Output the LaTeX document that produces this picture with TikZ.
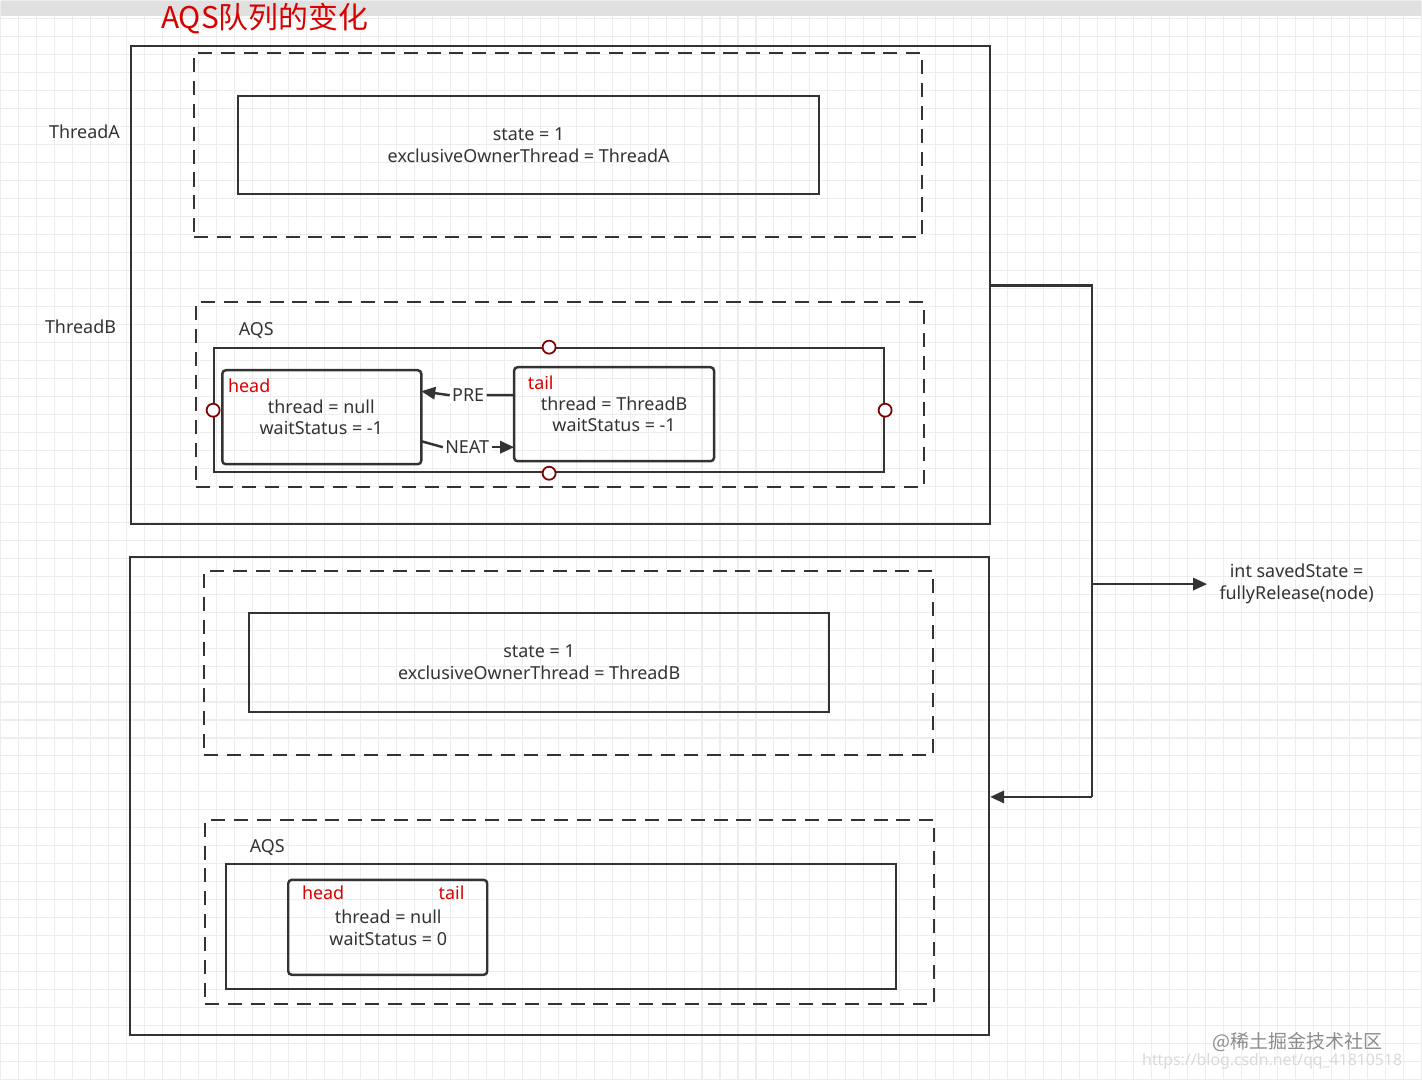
\documentclass[tikz,border=0pt]{standalone}
\usepackage{fontspec}
\setmainfont{Noto Sans}
\newfontfamily\cjk{Noto Sans CJK SC}
\usetikzlibrary{arrows.meta}

\tikzset{
  box/.style={draw=black!80, line width=0.6pt, inner sep=0pt},
  dbox/.style={draw=black!80, line width=0.6pt, dash pattern=on 4pt off 2.5pt, inner sep=0pt},
  qnode/.style={draw=black!80, line width=0.7pt, rounded corners=1pt, inner sep=0pt},
  txt/.style={font=\fontsize{5.1}{6.2}\selectfont, text=black!80, align=center},
  red/.style={font=\fontsize{5.1}{6.2}\selectfont, text=red!85!black, inner sep=0pt},
  port/.style={circle, draw=red!50!black, fill=white, line width=0.5pt, minimum size=0.13cm, inner sep=0pt},
  link/.style={draw=black!80, line width=0.7pt, -{Triangle[length=4pt,width=3.5pt]}},
}

\begin{document}
\begin{tikzpicture}[x=0.01cm,y=-0.01cm]
  % background grid
  \fill[white] (0,0) rectangle (1422,1080);
  \foreach \g in {0,18,...,1422} {\draw[black!7, line width=0.3pt] (\g,0) -- (\g,1080);}
  \foreach \g in {0,18,...,1080} {\draw[black!7, line width=0.3pt] (0,\g) -- (1422,\g);}
  \fill[black!12] (0,0) rectangle (1422,15);
  \useasboundingbox (0,0) rectangle (1422,1080);

  % title
  \node[anchor=west, inner sep=0pt, text=red!85!black, font=\cjk\fontsize{8.5}{10}\selectfont] (title) at (160,18) {AQS队列的变化};

  % upper state
  \node[box, minimum width=8.59cm, minimum height=4.78cm] (outerA) at (560.5,285) {};
  \node[dbox, minimum width=7.28cm, minimum height=1.84cm] (lockA) at (558,145) {};
  \node[box, minimum width=5.81cm, minimum height=0.98cm, txt] (stateA) at (528.5,145) {state = 1\\exclusiveOwnerThread = ThreadA};
  \node[txt] (threadA) at (84,131) {ThreadA};
  \node[txt] (threadB) at (80,327) {ThreadB};

  \node[dbox, minimum width=7.28cm, minimum height=1.85cm] (aqsA) at (560,394.5) {};
  \node[txt] (aqsLabelA) at (256,330) {AQS};
  \node[box, minimum width=6.70cm, minimum height=1.24cm] (queueA) at (549,410) {};
  \node[port] (pn) at (queueA.north) {};
  \node[port] (pw) at (queueA.west) {};
  \node[port] (pe) at (queueA.east) {};
  \node[port] (ps) at (queueA.south) {};

  \node[qnode, minimum width=1.99cm, minimum height=0.94cm] (head) at (321.5,417) {};
  \node[red, anchor=west] (headLabel) at (227,386) {head};
  \node[txt] (headText) at (321,417) {thread = null\\waitStatus = -1};
  \node[qnode, minimum width=2.00cm, minimum height=0.94cm] (tail) at (614,414) {};
  \node[red, anchor=west] (tailLabel) at (527,383) {tail};
  \node[txt] (tailText) at (614,414) {thread = ThreadB\\waitStatus = -1};

  \coordinate (preS) at (514,395);
  \coordinate (preE) at (421,391);
  \node[txt, fill=white, inner sep=0.5pt] (pre) at (468,395) {PRE};
  \draw[link] (preS) -- (pre.east) (pre.west) -- (preE);
  \coordinate (neatS) at (421,441);
  \coordinate (neatE) at (514,447);
  \node[txt, fill=white, inner sep=0.5pt] (neat) at (467,447) {NEAT};
  \draw[draw=black!80, line width=0.7pt] (neatS) -- (neat.west);
  \draw[link] (neat.east) -- (neatE);

  % lower state
  \node[box, minimum width=8.59cm, minimum height=4.78cm] (outerB) at (559.5,796) {};
  \node[dbox, minimum width=7.29cm, minimum height=1.84cm] (lockB) at (568.5,663) {};
  \node[box, minimum width=5.80cm, minimum height=0.99cm, txt] (stateB) at (539,662.5) {state = 1\\exclusiveOwnerThread = ThreadB};

  \node[dbox, minimum width=7.29cm, minimum height=1.84cm] (aqsB) at (569.5,912) {};
  \node[txt] (aqsLabelB) at (267,848) {AQS};
  \node[box, minimum width=6.70cm, minimum height=1.25cm] (queueB) at (561,926.5) {};
  \node[qnode, minimum width=1.99cm, minimum height=0.95cm] (single) at (387.5,927.5) {};
  \node[red, anchor=west] (headLabelB) at (301,893) {head};
  \node[red, anchor=east] (tailLabelB) at (465,893) {tail};
  \node[txt] (singleText) at (388,928) {thread = null\\waitStatus = 0};

  % release
  \node[txt] (release) at (1297,584) {int savedState =\\fullyRelease(node)};
  \coordinate (bend1) at (1092,285);
  \coordinate (bend2) at (1092,797);
  \coordinate (split) at (1092,584);
  \draw[draw=black!80, line width=0.7pt] (outerA.east |- bend1) -- (bend1) -- (bend2);
  \draw[link] (bend2) -- (outerB.east |- bend2);
  \draw[link] (split) -- (release.west);

  % watermark
  \node[anchor=east, text=black!45, font=\cjk\fontsize{5.4}{6}\selectfont] (mark) at (1395,1042) {@稀土掘金技术社区};
  \node[anchor=east, text=black!15, font=\fontsize{4.5}{5}\selectfont] (url) at (1415,1062) {https://blog.csdn.net/qq\_41810518};
\end{tikzpicture}
\end{document}
